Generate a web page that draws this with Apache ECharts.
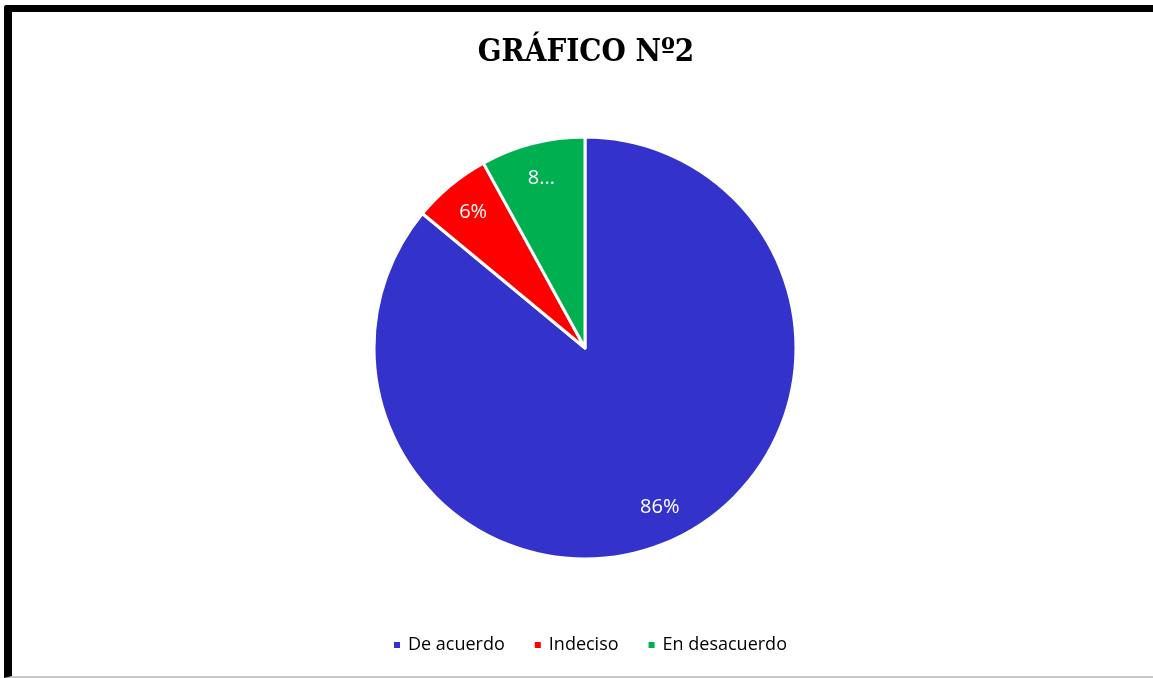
<!DOCTYPE html>
<html>
<head>
<meta charset="utf-8">
<script src="https://cdn.jsdelivr.net/npm/echarts@6/dist/echarts.min.js"></script>
<style>
  html, body { margin: 0; padding: 0; background: #fff; overflow: hidden; }
  #chart { position: absolute; left: 0; top: 0; width: 1153px; height: 678px; }
  #frame {
    position: absolute; left: 4px; top: 5px; width: 1160px; height: 664px;
    border-top: 7px solid #000; border-left: 8px solid #000;
    border-bottom: 2px solid #c8c8c8; border-top-left-radius: 3px;
    pointer-events: none;
  }
</style>
</head>
<body>
<div id="chart"></div>
<div id="frame"></div>
<script>
// Survey answers and their share (%)
const categories = ['De acuerdo', 'Indeciso', 'En desacuerdo'];
const values = [86, 6, 8];
// Text shown on each slice (the last one is cut short in the chart)
const sliceLabels = ['86%', '6%', '8...'];
const colors = ['#3333CC', '#FF0000', '#00B050'];

const chart = echarts.init(document.getElementById('chart'), null, { renderer: 'canvas' });

const pieData = categories.map((name, i) => ({
  name: name,
  value: values[i],
  itemStyle: { color: colors[i] }
}));

const labelData = categories.map((name, i) => ({
  name: name,
  value: values[i],
  label: { formatter: sliceLabels[i] }
}));

chart.setOption({
  animation: false,
  title: {
    text: 'GRÁFICO Nº2',
    left: 581,
    textAlign: 'center',
    top: 32,
    textStyle: {
      fontFamily: 'DejaVu Serif Condensed, DejaVu Serif',
      fontWeight: 'bold',
      fontSize: 31,
      color: '#000'
    }
  },
  legend: {
    data: categories,
    left: 387,
    top: 631,
    icon: 'rect',
    itemWidth: 8,
    itemHeight: 8,
    itemGap: 28,
    textStyle: { fontFamily: 'Open Sans', fontSize: 18, color: '#000', padding: [0, 0, 0, 2] }
  },
  series: [
    {
      type: 'pie',
      center: [585, 348],
      radius: [0, 211],
      startAngle: 90,
      clockwise: true,
      label: { show: false },
      labelLine: { show: false },
      itemStyle: { borderColor: '#fff', borderWidth: 3 },
      emphasis: { disabled: true },
      data: pieData
    },
    {
      // transparent ring used only to place the percentage labels
      type: 'pie',
      center: [585, 348],
      radius: [134, 211],
      startAngle: 90,
      clockwise: true,
      silent: true,
      legendHoverLink: false,
      itemStyle: { color: 'rgba(0,0,0,0)', borderWidth: 0 },
      label: {
        show: true,
        position: 'inside',
        color: '#fff',
        fontFamily: 'Open Sans',
        fontSize: 20
      },
      labelLine: { show: false },
      emphasis: { disabled: true },
      data: labelData
    }
  ]
});
</script>
</body>
</html>
